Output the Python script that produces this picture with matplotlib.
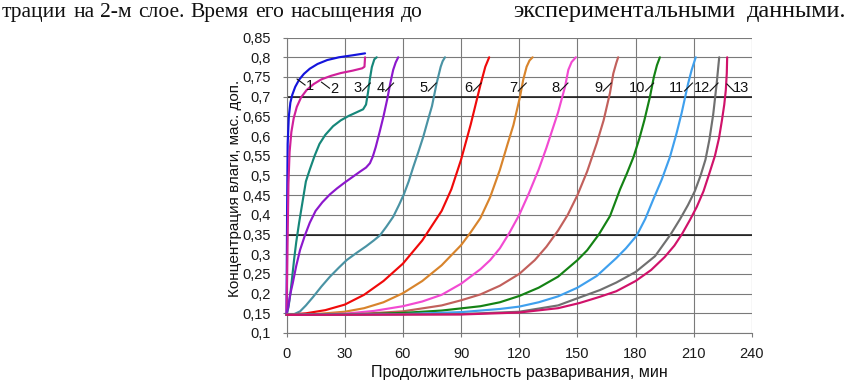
import matplotlib
matplotlib.use("Agg")
import matplotlib.pyplot as plt

# ---------------- data ----------------
t1 = [0, 0.3, 0.6, 1.2, 2, 3, 4.5, 6.5, 9, 12, 16, 21, 27, 34, 40.5]
c1 = [0.146, 0.4, 0.58, 0.65, 0.685, 0.705, 0.725, 0.743, 0.758, 0.771, 0.783, 0.793, 0.800, 0.805, 0.81]

t2 = [0, 0.6, 1.0, 1.6, 2.5, 3.7, 5.3, 7.5, 10.4, 14, 18, 23, 28, 34, 39, 40.2, 40.5]
c2 = [0.146, 0.35, 0.48, 0.56, 0.61, 0.645, 0.674, 0.698, 0.717, 0.732, 0.744, 0.753, 0.760, 0.766, 0.772, 0.776, 0.80]

t3 = [0, 1, 2, 3, 4, 5, 6.5, 8, 10, 12, 14.5, 17, 20, 24, 28, 32, 36, 39.5, 41, 42, 43, 44, 45.3, 46.5]
c3 = [0.146, 0.165, 0.2, 0.245, 0.29, 0.33, 0.38, 0.425, 0.485, 0.515, 0.55, 0.58, 0.603, 0.625, 0.64,
      0.651, 0.66, 0.668, 0.68, 0.71, 0.745, 0.775, 0.795, 0.80]

t4 = [0, 1, 2, 3.2, 5, 7, 9.5, 12, 15, 18.5, 22.4, 26, 30, 34, 38, 41, 43, 44.5, 46, 48, 50, 52, 53.5,
      55, 56.3, 57.6]
c4 = [0.146, 0.17, 0.2, 0.226, 0.27, 0.311, 0.348, 0.38, 0.41, 0.432, 0.452, 0.467, 0.482, 0.496, 0.51,
      0.52, 0.531, 0.548, 0.572, 0.61, 0.65, 0.695, 0.734, 0.768, 0.787, 0.80]

t5 = [0, 4, 7, 10, 13.8, 18, 22.4, 27, 31, 36, 41, 45, 48.2, 51.5, 55, 58, 60.5, 63, 65.4, 68, 70.5, 73,
      75, 77.4, 79.5, 80.5, 81.7]
c5 = [0.146, 0.148, 0.155, 0.17, 0.192, 0.218, 0.243, 0.266, 0.285, 0.303, 0.32, 0.335, 0.348, 0.37,
      0.395, 0.425, 0.452, 0.485, 0.522, 0.56, 0.598, 0.642, 0.676, 0.734, 0.776, 0.79, 0.80]

t6 = [0, 10, 20, 30, 40, 50, 60, 70, 80, 85, 90, 95, 100, 102.5, 104.5]
c6 = [0.146, 0.150, 0.158, 0.172, 0.197, 0.232, 0.276, 0.335, 0.41, 0.465, 0.54, 0.63, 0.73, 0.776, 0.80]

t7 = [0, 15, 30, 40, 50, 60, 70, 80, 90, 95, 100, 105, 110, 114, 117, 120.4, 122, 123.8, 125.3, 126.9]
c7 = [0.146, 0.148, 0.154, 0.163, 0.178, 0.201, 0.232, 0.272, 0.323, 0.356, 0.392, 0.445, 0.514, 0.58,
      0.628, 0.70, 0.742, 0.776, 0.792, 0.80]

t8 = [0, 30, 45, 60, 70, 80, 90, 100, 105, 110, 115, 120, 125, 130, 134, 137, 140, 143.6, 145.3, 147, 149.2]
c8 = [0.146, 0.149, 0.156, 0.168, 0.18, 0.197, 0.225, 0.262, 0.285, 0.315, 0.355, 0.40, 0.455, 0.515,
      0.57, 0.615, 0.66, 0.725, 0.768, 0.788, 0.80]

t9 = [0, 40, 60, 80, 90, 100, 110, 120, 128, 134, 140, 145, 150, 155, 159.9, 163.5, 166.8, 168.5, 170, 171]
c9 = [0.146, 0.149, 0.155, 0.17, 0.183, 0.198, 0.22, 0.25, 0.285, 0.319, 0.36, 0.40, 0.45, 0.51, 0.581,
      0.64, 0.71, 0.759, 0.785, 0.80]

t10 = [0, 40, 60, 80, 100, 110, 120, 130, 140, 150, 155, 161, 166.8, 172, 175.5, 179, 182, 184.5, 187.4,
       189.4, 191, 192.5]
c10 = [0.146, 0.148, 0.151, 0.157, 0.168, 0.178, 0.194, 0.215, 0.243, 0.285, 0.31, 0.35, 0.397, 0.465,
       0.505, 0.548, 0.595, 0.64, 0.70, 0.75, 0.78, 0.80]

t11 = [0, 60, 90, 110, 120, 130, 140, 150, 160, 170, 175, 180.5, 185, 189, 193.5, 197.7, 201, 203.7,
       207.1, 208.9, 210, 211]
c11 = [0.146, 0.148, 0.153, 0.161, 0.167, 0.178, 0.193, 0.215, 0.245, 0.29, 0.315, 0.347, 0.39, 0.438,
       0.49, 0.547, 0.605, 0.658, 0.734, 0.768, 0.785, 0.80]

t12 = [0, 90, 120, 140, 151, 161.6, 170, 180, 190, 198, 203, 207, 210.5, 213.5, 216, 218, 220, 221.8,
       222.7, 223.1]
c12 = [0.146, 0.148, 0.154, 0.17, 0.19, 0.209, 0.228, 0.255, 0.295, 0.35, 0.39, 0.425, 0.46, 0.50, 0.54,
       0.59, 0.655, 0.734, 0.78, 0.80]

t13 = [0, 90, 120, 140, 151, 161.6, 170, 180, 188, 195, 200, 204, 208, 211.5, 215, 218, 220.9, 223,
       224.5, 225.7, 226.5, 227, 227.2]
c13 = [0.146, 0.147, 0.152, 0.163, 0.176, 0.192, 0.206, 0.232, 0.26, 0.293, 0.322, 0.352, 0.387, 0.42,
       0.46, 0.505, 0.55, 0.595, 0.64, 0.68, 0.717, 0.76, 0.80]

curve_names = ["1", "2", "3", "4", "5", "6", "7", "8", "9", "10", "11", "12", "13"]
curve_t = [t1, t2, t3, t4, t5, t6, t7, t8, t9, t10, t11, t12, t13]
curve_c = [c1, c2, c3, c4, c5, c6, c7, c8, c9, c10, c11, c12, c13]
curve_colors = ["#1414dc", "#d0209a", "#16877a", "#8c18cc", "#4a93a4", "#f00a0a",
                "#d8842c", "#f24ad2", "#c2605c", "#148214", "#3fa0ee", "#707070", "#d0126a"]

# label positions (data coordinates)
label_t = [11.9, 24.5, 36.5, 48.5, 70.5, 93.7, 116.9, 138.4, 160.7, 180.8, 200.8, 214.0, 234.3]
label_c = [0.727, 0.719, 0.722, 0.722, 0.722, 0.722, 0.722, 0.722, 0.722, 0.722, 0.722, 0.722, 0.722]

x_ticks = [0, 30, 60, 90, 120, 150, 180, 210, 240]
y_ticks = [0.1, 0.15, 0.2, 0.25, 0.3, 0.35, 0.4, 0.45, 0.5, 0.55, 0.6, 0.65, 0.7, 0.75, 0.8, 0.85]
y_tick_labels = ["0,1", "0,15", "0,2", "0,25", "0,3", "0,35", "0,4", "0,45", "0,5",
                 "0,55", "0,6", "0,65", "0,7", "0,75", "0,8", "0,85"]
x_label = "Продолжительность разваривания, мин"
y_label = "Концентрация влаги, мас. доп."

top_line_left = ["трации", "на", "2-м", "слое.", "Время", "его", "насыщения", "до"]
top_line_right = ["экспериментальными", "данными."]

# ---------------- figure ----------------
W, H = 848, 380
fig = plt.figure(figsize=(W / 100, H / 100), dpi=100)
fig.patch.set_facecolor("white")
renderer = fig.canvas.get_renderer()


def justified(words, x0, x1, y_base, size):
    texts = [fig.text(0, 1 - y_base / H, w, family=["Liberation Serif", "DejaVu Serif"],
                      fontsize=size, ha="left", va="baseline", color="#111111") for w in words]
    widths = [t.get_window_extent(renderer).width for t in texts]
    gap = (x1 - x0 - sum(widths)) / max(len(words) - 1, 1)
    x = x0
    for t, w in zip(texts, widths):
        t.set_x(x / W)
        x += w + gap


justified(top_line_left, 2, 423, 17, 15.5)
justified(top_line_right, 513, 846, 17, 17.5)

ax = fig.add_axes([286.5 / W, 1 - 333 / H, (752 - 286.5) / W, (333 - 37.6) / H])
ax.set_xlim(0, 240)
ax.set_ylim(0.1, 0.85)

grid_col = "#7a7a7a"
ax.set_xticks(x_ticks)
ax.set_yticks(y_ticks)
ax.set_yticklabels(y_tick_labels)
ax.grid(True, color=grid_col, lw=0.8)
ax.set_axisbelow(True)
for yv in (0.35, 0.7):
    ax.axhline(yv, color="#101010", lw=1.1, zorder=1)

for s in ("top", "right"):
    ax.spines[s].set_visible(False)
for s in ("left", "bottom"):
    ax.spines[s].set_color(grid_col)
    ax.spines[s].set_linewidth(0.8)

ax.tick_params(axis="both", length=3, color=grid_col, labelcolor="#1a1a1a")
for lab in ax.get_xticklabels() + ax.get_yticklabels():
    lab.set_fontfamily(["Liberation Sans", "DejaVu Sans"])
    lab.set_fontsize(10.5)
ax.tick_params(axis="y", pad=8)
ax.tick_params(axis="x", pad=7)

ax.set_xlabel(x_label, family=["Liberation Sans", "DejaVu Sans"], fontsize=11.5, color="#111111", va="center")
ax.set_ylabel(y_label, family=["Liberation Sans", "DejaVu Sans"], fontsize=11, color="#111111", va="center")
ax.xaxis.set_label_coords(0.5, (333 - 372) / 295.4)
ax.yaxis.set_label_coords((235 - 286.5) / 465.5, 0.49)

for tt, cc, col in zip(curve_t, curve_c, curve_colors):
    ax.plot(tt, cc, color=col, lw=1.55, solid_joinstyle="round", solid_capstyle="round",
            zorder=3, clip_on=False)

# labels with leaders
px_per_t = (752 - 286.5) / 240
px_per_c = (333 - 37.6) / 0.75
for name, lt, lc in zip(curve_names, label_t, label_c):
    ax.text(lt, lc, name, family=["Liberation Sans", "DejaVu Sans"], fontsize=10.5,
            ha="center", va="center", color="#111111", zorder=4)
    half = (3.5 if len(name) == 1 else 7.0)
    if name in ("1", "2"):
        x0, y0, x1, y1 = -12.5, 7, -4.5, 1
    elif name == "13":
        x0, y0, x1, y1 = -14, 4, -7, -3
    else:
        x0, y0, x1, y1 = half + 1.5, -3, half + 9.5, 5
    ax.plot([lt + x0 / px_per_t, lt + x1 / px_per_t],
            [lc + y0 / px_per_c, lc + y1 / px_per_c], color="#111111", lw=0.8, zorder=4)

fig.savefig("out.png", dpi=100, facecolor="white")
